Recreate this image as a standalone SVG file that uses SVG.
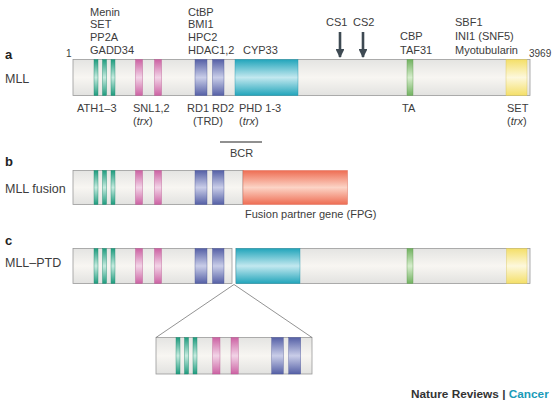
<svg xmlns="http://www.w3.org/2000/svg" width="555" height="404" viewBox="0 0 555 404">
<defs>
<linearGradient id="gGray" x1="0" y1="0" x2="0" y2="1"><stop offset="0" stop-color="#e4e4e2"/><stop offset="0.5" stop-color="#f8f6f2"/><stop offset="1" stop-color="#e2e2e0"/></linearGradient>
<linearGradient id="gTeal" x1="0" y1="0" x2="0" y2="1"><stop offset="0" stop-color="#1e9b7e"/><stop offset="0.5" stop-color="#c6ebdf"/><stop offset="1" stop-color="#1e9b7e"/></linearGradient>
<linearGradient id="gPink" x1="0" y1="0" x2="0" y2="1"><stop offset="0" stop-color="#cc62a3"/><stop offset="0.5" stop-color="#f2d3e6"/><stop offset="1" stop-color="#cc62a3"/></linearGradient>
<linearGradient id="gBlue" x1="0" y1="0" x2="0" y2="1"><stop offset="0" stop-color="#5560a6"/><stop offset="0.5" stop-color="#c9cde8"/><stop offset="1" stop-color="#5560a6"/></linearGradient>
<linearGradient id="gCyan" x1="0" y1="0" x2="0" y2="1"><stop offset="0" stop-color="#22a5bb"/><stop offset="0.5" stop-color="#c2e8ef"/><stop offset="1" stop-color="#22a5bb"/></linearGradient>
<linearGradient id="gGreen" x1="0" y1="0" x2="0" y2="1"><stop offset="0" stop-color="#72b261"/><stop offset="0.5" stop-color="#d6edcc"/><stop offset="1" stop-color="#72b261"/></linearGradient>
<linearGradient id="gYellow" x1="0" y1="0" x2="0" y2="1"><stop offset="0" stop-color="#f4df68"/><stop offset="0.5" stop-color="#fdf8dc"/><stop offset="1" stop-color="#f4df68"/></linearGradient>
<linearGradient id="gOrange" x1="0" y1="0" x2="0" y2="1"><stop offset="0" stop-color="#ee6d53"/><stop offset="0.5" stop-color="#fcd4c6"/><stop offset="1" stop-color="#ee6d53"/></linearGradient>
<marker id="ah" viewBox="0 0 10 10" refX="9" refY="5" markerWidth="3.4" markerHeight="3.4" orient="auto" markerUnits="strokeWidth">
<path d="M0,0 L10,5 L0,10 Z" fill="#3e4a53"/>
</marker>
</defs>
<style>
text{font-family:"Liberation Sans",Arial,sans-serif;font-size:11px;fill:#3c3c3c}
.lbl{font-size:12.5px}
.big{font-size:13px;font-weight:bold;fill:#222}
.sm{font-size:10px}
.bar{fill:url(#gGray);stroke:#9a9a9a;stroke-width:0.8}
.teal{fill:url(#gTeal);stroke:#1a8a6e;stroke-width:0.4}
.pink{fill:url(#gPink);stroke:#b8548f;stroke-width:0.4}
.blue{fill:url(#gBlue);stroke:#4a5497;stroke-width:0.4}
.cyan{fill:url(#gCyan);stroke:#1a93a8;stroke-width:0.4}
.green{fill:url(#gGreen);stroke:#5f9c50;stroke-width:0.4}
.yellow{fill:url(#gYellow);stroke:#d8c456;stroke-width:0.4}
.orange{fill:url(#gOrange);stroke:#d85d45;stroke-width:0.4}
.ln{stroke:#777;stroke-width:0.8;fill:none}
.arrow{stroke:#3e4a53;stroke-width:2.6;fill:none}
</style>

<g id="node-a">
<text class="big" x="5" y="59">a</text>
<text class="lbl" x="5" y="83">MLL</text>
<text class="sm" x="66" y="57">1</text>
<text class="sm" x="529" y="57">3969</text>
<rect class="bar" x="73" y="59.5" width="457" height="36"/>
<rect class="teal" x="94" y="59.5" width="4" height="36"/>
<rect class="teal" x="102.5" y="59.5" width="4" height="36"/>
<rect class="teal" x="111" y="59.5" width="4" height="36"/>
<rect class="pink" x="135.5" y="59.5" width="7" height="36"/>
<rect class="pink" x="154.5" y="59.5" width="7" height="36"/>
<rect class="blue" x="195" y="59.5" width="12" height="36"/>
<rect class="blue" x="212.5" y="59.5" width="11.5" height="36"/>
<rect class="cyan" x="235" y="59.5" width="63" height="36"/>
<rect class="green" x="407" y="59.5" width="6" height="36"/>
<rect class="yellow" x="506" y="59.5" width="21" height="36"/>
<text x="90" y="15.5">Menin</text>
<text x="90" y="28.2">SET</text>
<text x="90" y="40.9">PP2A</text>
<text x="90" y="53.6">GADD34</text>
<text x="188" y="15.5">CtBP</text>
<text x="188" y="28.2">BMI1</text>
<text x="188" y="40.9">HPC2</text>
<text x="188" y="53.6">HDAC1,2</text>
<text x="243" y="53.6">CYP33</text>
<text x="326" y="26">CS1</text>
<text x="353" y="26">CS2</text>
<text x="400" y="40">CBP</text>
<text x="400" y="53.6">TAF31</text>
<text x="455" y="26">SBF1</text>
<text x="455" y="40">INI1 (SNF5)</text>
<text x="455" y="53.6">Myotubularin</text>
<text x="77" y="111.5">ATH1–3</text>
<text x="133" y="111.5">SNL1,2</text>
<text x="133" y="125">(<tspan font-style="italic">trx</tspan>)</text>
<text x="187" y="111.5">RD1 RD2</text>
<text x="193" y="125">(TRD)</text>
<text x="239" y="111.5">PHD 1-3</text>
<text x="239" y="125">(<tspan font-style="italic">trx</tspan>)</text>
<text x="402" y="111.5">TA</text>
<text x="507" y="111.5">SET</text>
<text x="507" y="125">(<tspan font-style="italic">trx</tspan>)</text>
<text x="230" y="157">BCR</text>
</g>

<g id="node-b">
<text class="big" x="5" y="166">b</text>
<text class="lbl" x="5" y="193">MLL fusion</text>
<rect class="bar" x="73" y="170.5" width="170" height="34"/>
<rect class="teal" x="94" y="170.5" width="4" height="34"/>
<rect class="teal" x="102.5" y="170.5" width="4" height="34"/>
<rect class="teal" x="111" y="170.5" width="4" height="34"/>
<rect class="pink" x="135.5" y="170.5" width="7" height="34"/>
<rect class="pink" x="154.5" y="170.5" width="7" height="34"/>
<rect class="blue" x="195" y="170.5" width="12" height="34"/>
<rect class="blue" x="212.5" y="170.5" width="11.5" height="34"/>
<rect class="orange" x="243" y="170.5" width="104.5" height="34"/>
<text x="245" y="218">Fusion partner gene (FPG)</text>
</g>

<g id="node-c">
<text class="big" x="5" y="245">c</text>
<text class="lbl" x="5" y="267">MLL–PTD</text>
<rect class="bar" x="73" y="248.5" width="159" height="35"/>
<rect class="teal" x="94" y="248.5" width="4" height="35"/>
<rect class="teal" x="102.5" y="248.5" width="4" height="35"/>
<rect class="teal" x="111" y="248.5" width="4" height="35"/>
<rect class="pink" x="135.5" y="248.5" width="7" height="35"/>
<rect class="pink" x="154.5" y="248.5" width="7" height="35"/>
<rect class="blue" x="195" y="248.5" width="12" height="35"/>
<rect class="blue" x="212.5" y="248.5" width="11.5" height="35"/>
<rect class="bar" x="236" y="248.5" width="294" height="35"/>
<rect class="cyan" x="236" y="248.5" width="64" height="35"/>
<rect class="green" x="407" y="248.5" width="6" height="35"/>
<rect class="yellow" x="506.5" y="248.5" width="20.5" height="35"/>
</g>

<g id="node-inset">
<rect class="bar" x="156" y="337.5" width="156" height="36.5"/>
<rect class="teal" x="176" y="337.5" width="4" height="36.5"/>
<rect class="teal" x="184.5" y="337.5" width="4" height="36.5"/>
<rect class="teal" x="193" y="337.5" width="4" height="36.5"/>
<rect class="pink" x="212.7" y="337.5" width="7.3" height="36.5"/>
<rect class="pink" x="231" y="337.5" width="7.3" height="36.5"/>
<rect class="blue" x="271.7" y="337.5" width="11.6" height="36.5"/>
<rect class="blue" x="288.7" y="337.5" width="12" height="36.5"/>
</g>

<g id="connectors">
<line class="arrow" x1="340" y1="32" x2="340" y2="57" marker-end="url(#ah)"/>
<line class="arrow" x1="363" y1="32" x2="363" y2="57" marker-end="url(#ah)"/>
<line x1="220" y1="142" x2="262" y2="142" stroke="#222" stroke-width="1.2"/>
<polyline class="ln" points="156,337.5 234,284.5 312,337.5"/>
</g>

<g id="credit">
<text x="411" y="398" style="font-weight:bold;font-size:11.8px;fill:#333">Nature Reviews | <tspan style="fill:#1a9bb8">Cancer</tspan></text>
</g>
</svg>
